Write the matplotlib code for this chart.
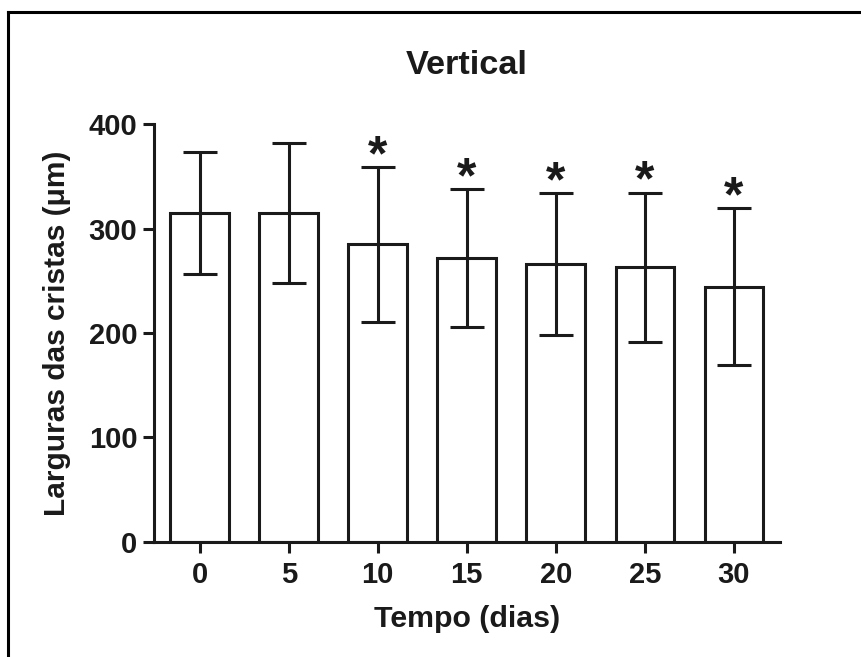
import matplotlib
matplotlib.use("Agg")
import matplotlib.pyplot as plt
from matplotlib.lines import Line2D

# values (bar = mean, error bar = SD)
dias = ["0", "5", "10", "15", "20", "25", "30"]
larguras = [315, 315, 285, 272, 266, 263, 244.5]
desvio = [58, 67.5, 74, 66, 68, 71.5, 75.5]
signif = [False, False, True, True, True, True, True]

plt.rcParams['font.family'] = ['Liberation Sans', 'DejaVu Sans']
plt.rcParams['font.weight'] = 'bold'
ink = '#1a1a1a'

fig = plt.figure(figsize=(8.61, 6.57), dpi=100)
ax = fig.add_axes([0.1789, 0.1755, 0.9057 - 0.1789, 0.8108 - 0.1755])

x = list(range(len(dias)))
ax.bar(x, larguras, width=0.66, color='white', edgecolor=ink, linewidth=2.2, zorder=2)
ax.errorbar(x, larguras, yerr=desvio, fmt='none', ecolor=ink, elinewidth=2.2,
            capsize=12, capthick=2.2, zorder=3)

# asterisks over the bars that differ from day 0
for i in x:
    if signif[i]:
        ax.text(i, larguras[i] + desvio[i] - 3, '*', ha='center', va='baseline',
                fontsize=36, fontweight='bold', color=ink)

ax.set_xlim(-0.512, 6.515)
ax.set_ylim(0, 400)
ax.set_xticks(x)
ax.set_xticklabels(dias)
ax.set_yticks([0, 100, 200, 300, 400])

for s in ['top', 'right']:
    ax.spines[s].set_visible(False)
for s in ['left', 'bottom']:
    ax.spines[s].set_linewidth(2.2)
    ax.spines[s].set_color(ink)

ax.tick_params(axis='both', length=8, width=2.2, color=ink, labelcolor=ink, labelsize=21)
ax.tick_params(axis='y', pad=4)
ax.tick_params(axis='x', pad=6)

ax.set_title('Vertical', fontsize=24.7, fontweight='bold', color=ink, pad=36)
ax.set_xlabel('Tempo (dias)', fontsize=21.8, fontweight='bold', color=ink)
ax.set_ylabel('Larguras das cristas (μm)', fontsize=21.5, fontweight='bold', color=ink)
ax.xaxis.set_label_coords(0.5, -0.152)
ax.yaxis.set_label_coords(-0.1326, 0.5)

# frame lines on the left and top of the picture
fig.add_artist(Line2D([0.0093, 0.0093], [0, 0.9817], color='black', lw=2.2))
fig.add_artist(Line2D([0.0093, 1], [0.9817, 0.9817], color='black', lw=2.2))

fig.savefig('out.png', dpi=100, facecolor='white')
